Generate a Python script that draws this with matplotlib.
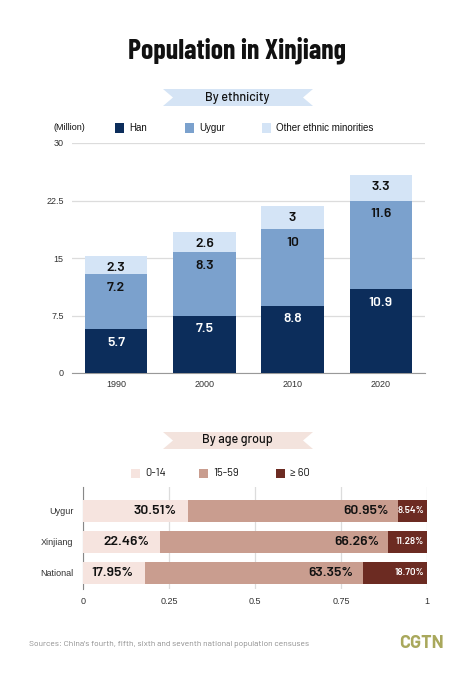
import matplotlib
matplotlib.use('Agg')
import matplotlib.pyplot as plt
from matplotlib.patches import Polygon, Rectangle

# ethnicity data (million)
years = ['1990', '2000', '2010', '2020']
han = [5.7, 7.5, 8.8, 10.9]
uygur = [7.2, 8.3, 10, 11.6]
other = [2.3, 2.6, 3, 3.3]
y_ticks = [0, 7.5, 15, 22.5, 30]

# age group data (%)
groups = ['Uygur', 'Xinjiang', 'National']
age_0_14 = [30.51, 22.46, 17.95]
age_15_59 = [60.95, 66.26, 63.35]
age_60 = [8.54, 11.28, 18.70]
x_ticks = [0, 0.25, 0.5, 0.75, 1]

W, H = 474, 678
plt.rcParams['font.family'] = ['Liberation Sans', 'DejaVu Sans']
DIN = ['Barlow', 'DejaVu Sans']
DIN_C = ['Barlow Condensed', 'DejaVu Sans']

c_han, c_uyg, c_oth = '#0c2d5b', '#7ba1cd', '#d4e4f6'
c_a1, c_a2, c_a3 = '#f6e4df', '#c99d8f', '#6c2b22'
grid_c = '#dcdcdc'
tick_c = '#333333'

fig = plt.figure(figsize=(W / 100, H / 100), dpi=100)


def fx(px):
    return px / W


def fy(py):
    return 1 - py / H


# title
fig.text(fx(237), fy(50), 'Population in Xinjiang', ha='center', va='center',
         fontsize=20, fontweight='bold', family=DIN_C, color='#111111')


def banner(y0, y1, color, text):
    x0, x1, n = 163, 313, 10
    ym = (y0 + y1) / 2
    pts = [(x0, y0), (x1, y0), (x1 - n, ym), (x1, y1), (x0, y1), (x0 + n, ym)]
    pts = [(fx(a), fy(b)) for a, b in pts]
    fig.patches.append(Polygon(pts, closed=True, transform=fig.transFigure,
                               facecolor=color, edgecolor='none'))
    fig.text(fx(237), fy(ym), text, ha='center', va='center', fontsize=9,
             family=DIN, fontweight='medium', color='#111111')


banner(89, 106, '#d5e4f5', 'By ethnicity')
banner(432, 449, '#f3e3dd', 'By age group')


def legend_item(x, y, color, text, fam=None, size=7):
    fig.patches.append(Rectangle((fx(x), fy(y + 4.5)), fx(9), 9 / H,
                                 transform=fig.transFigure, facecolor=color,
                                 edgecolor='none'))
    fig.text(fx(x + 14), fy(y), text, ha='left', va='center', fontsize=size,
             family=fam, color='#111111')


fig.text(fx(54), fy(128), '(Million)', ha='left', va='center', fontsize=6.5,
         color='#111111')
legend_item(115, 128, c_han, 'Han')
legend_item(185, 128, c_uyg, 'Uygur')
legend_item(262, 128, c_oth, 'Other ethnic minorities')

legend_item(131, 473, c_a1, '0-14', DIN, 8)
legend_item(199, 473, c_a2, '15-59', DIN, 8)
legend_item(276, 473, c_a3, '≥ 60', DIN, 8)

# top chart
ax1 = fig.add_axes([fx(72), fy(373), fx(425 - 72), (373 - 143) / H])
xs = range(len(years))
w = 0.71
ax1.bar(xs, han, w, color=c_han, zorder=3)
ax1.bar(xs, uygur, w, bottom=han, color=c_uyg, zorder=3)
bottom3 = [h + u for h, u in zip(han, uygur)]
ax1.bar(xs, other, w, bottom=bottom3, color=c_oth, zorder=3)

lbl = dict(textcoords='offset points', ha='center', va='center', fontsize=10,
           fontweight='semibold', family=DIN, zorder=4)
for i in xs:
    ax1.annotate(f'{han[i]:g}', (i, han[i]), xytext=(0, -10), color='white', **lbl)
    ax1.annotate(f'{uygur[i]:g}', (i, bottom3[i]), xytext=(0, -10), color='#111111', **lbl)
    ax1.annotate(f'{other[i]:g}', (i, bottom3[i] + other[i]), xytext=(0, -8.5),
                 color='#111111', **lbl)

ax1.set_xlim(-0.5, 3.5)
ax1.set_ylim(0, 30)
ax1.set_yticks(y_ticks)
ax1.set_yticklabels([f'{t:g}' for t in y_ticks])
ax1.set_xticks(list(xs))
ax1.set_xticklabels(years)
ax1.grid(axis='y', color=grid_c, linewidth=0.9, zorder=0)
for s in ['top', 'right', 'left']:
    ax1.spines[s].set_visible(False)
ax1.spines['bottom'].set_color('#999999')
ax1.tick_params(axis='both', length=0, labelsize=6.5, labelcolor=tick_c)
ax1.tick_params(axis='y', pad=6)
ax1.tick_params(axis='x', pad=5)

# bottom chart
ax2 = fig.add_axes([fx(83), fy(589), fx(427 - 83), (589 - 487) / H])
ys = [2, 1, 0]
h = 0.7
a1 = [v / 100 for v in age_0_14]
a2 = [v / 100 for v in age_15_59]
a3 = [v / 100 for v in age_60]
left3 = [p + q for p, q in zip(a1, a2)]
ax2.barh(ys, a1, h, color=c_a1, zorder=3)
ax2.barh(ys, a2, h, left=a1, color=c_a2, zorder=3)
ax2.barh(ys, a3, h, left=left3, color=c_a3, zorder=3)

lbl2 = dict(textcoords='offset points', ha='right', va='center', fontweight='semibold',
            family=DIN, zorder=4)
for i, y in enumerate(ys):
    ax2.annotate(f'{age_0_14[i]:.2f}%', (a1[i], y), xytext=(-8, 0), fontsize=10,
                 color='#111111', **lbl2)
    ax2.annotate(f'{age_15_59[i]:.2f}%', (left3[i], y), xytext=(-6.5, 0), fontsize=10,
                 color='#111111', **lbl2)
    ax2.annotate(f'{age_60[i]:.2f}%', (1, y), xytext=(-2, 0), fontsize=7,
                 color='white', **lbl2)

ax2.set_xlim(0, 1)
ax2.set_ylim(-0.52, 2.77)
ax2.set_yticks(ys)
ax2.set_yticklabels(groups)
ax2.set_xticks(x_ticks)
ax2.set_xticklabels([f'{t:g}' for t in x_ticks])
ax2.grid(axis='x', color=grid_c, linewidth=0.9, zorder=0)
for s in ['top', 'right', 'bottom']:
    ax2.spines[s].set_visible(False)
ax2.spines['left'].set_color('#888888')
ax2.tick_params(axis='both', length=0, labelsize=6.5, labelcolor=tick_c)
ax2.tick_params(axis='y', pad=7)
ax2.tick_params(axis='x', pad=6)

# footer
fig.text(fx(29), fy(645), "Sources: China's fourth, fifth, sixth and seventh national population censuses",
         ha='left', va='center', fontsize=6.1, family=DIN, color='#8c8c8c')
fig.text(fx(444), fy(644), 'CGTN', ha='right', va='center', fontsize=13,
         fontweight='bold', family=DIN, color='#a9a85c')

fig.savefig('out.png', dpi=100, facecolor='white')
